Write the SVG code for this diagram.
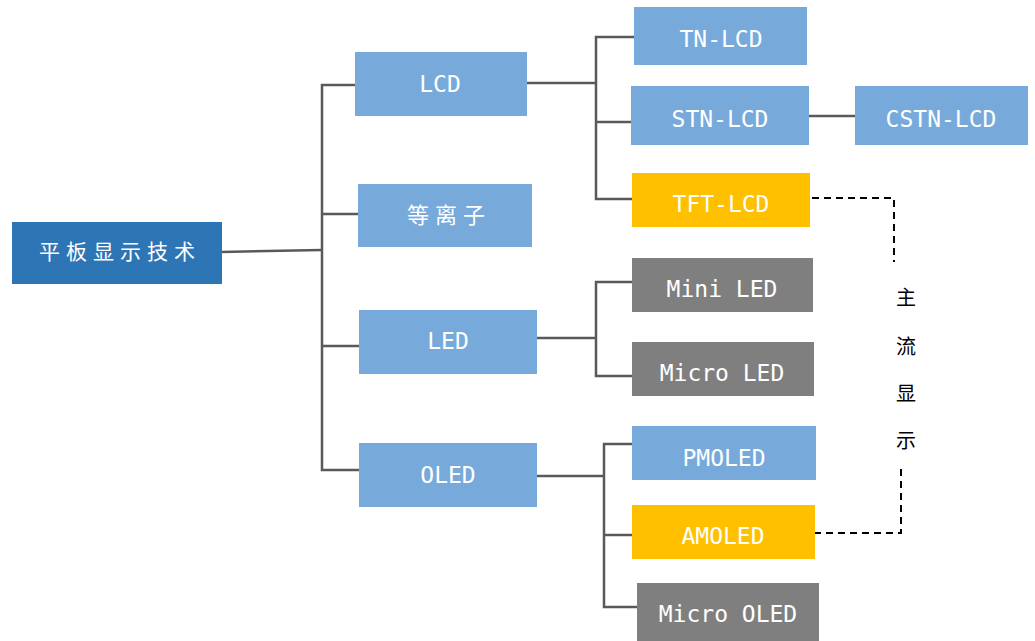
<svg xmlns="http://www.w3.org/2000/svg" width="1035" height="641" viewBox="0 0 1035 641">
<style>
.c{fill:none;stroke:#595959;stroke-width:2.5}
.d{fill:none;stroke:#000;stroke-width:2;stroke-dasharray:7,5}
.blue{fill:#77AADB}
.gold{fill:#FFC000}
.gray{fill:#7F7F7F}
.t{fill:#fff;font-family:"DejaVu Sans Mono","Noto Sans CJK SC",monospace;font-size:23px;text-anchor:middle}
.cj{fill:#fff;font-family:"Noto Sans CJK SC",sans-serif;font-size:21px;text-anchor:middle;letter-spacing:6px}
.lbl{fill:#000;font-family:"Noto Sans CJK SC",sans-serif;font-size:20px;text-anchor:middle}
</style>
<rect width="1035" height="641" fill="#fff"/>
<g id="connectors">
<path class="c" d="M221 252 L322 250"/>
<path class="c" d="M355 85 H322 V470 H359 M322 214 H358 M322 346 H359"/>
<path class="c" d="M527 83 H596 M634 37 H596 V199 H632 M596 122 H631"/>
<path class="c" d="M809 116 H855"/>
<path class="c" d="M537 338 H596 M632 282 H596 V376 H632"/>
<path class="c" d="M537 476 H604 M632 444 H604 V607 H637"/>
<path class="c" d="M604 535 H632"/>
<path class="d" d="M812 198 H894 V262"/>
<path class="d" d="M901 469 V533 H812"/>
</g>
<g id="root"><rect x="12" y="222" width="210" height="62" fill="#2E75B6"/><text class="cj" x="120" y="259">平板显示技术</text></g>
<g id="lcd"><rect class="blue" x="355" y="52" width="172" height="64"/><text class="t" x="440" y="92">LCD</text></g>
<g id="plasma"><rect class="blue" x="358" y="184" width="174" height="63"/><text class="cj" x="449" y="223" style="font-size:22px">等离子</text></g>
<g id="led"><rect class="blue" x="359" y="310" width="178" height="64"/><text class="t" x="448" y="349">LED</text></g>
<g id="oled"><rect class="blue" x="359" y="443" width="178" height="64"/><text class="t" x="448" y="483">OLED</text></g>
<g id="tn"><rect class="blue" x="634" y="7" width="173" height="58"/><text class="t" x="721" y="47">TN-LCD</text></g>
<g id="stn"><rect class="blue" x="631" y="86" width="178" height="59"/><text class="t" x="720" y="127">STN-LCD</text></g>
<g id="cstn"><rect class="blue" x="855" y="86" width="173" height="59"/><text class="t" x="941" y="127">CSTN-LCD</text></g>
<g id="tft"><rect class="gold" x="632" y="173" width="178" height="54"/><text class="t" x="721" y="212">TFT-LCD</text></g>
<g id="miniled"><rect class="gray" x="632" y="258" width="181" height="54"/><text class="t" x="722" y="297">Mini LED</text></g>
<g id="microled"><rect class="gray" x="632" y="342" width="182" height="54"/><text class="t" x="722" y="381">Micro LED</text></g>
<g id="pmoled"><rect class="blue" x="632" y="426" width="184" height="54"/><text class="t" x="724" y="466">PMOLED</text></g>
<g id="amoled"><rect class="gold" x="632" y="505" width="183" height="54"/><text class="t" x="723" y="544">AMOLED</text></g>
<g id="microoled"><rect class="gray" x="637" y="583" width="182" height="58"/><text class="t" x="728" y="622">Micro OLED</text></g>
<g id="label">
<text class="lbl" x="906" y="305">主</text>
<text class="lbl" x="906" y="354">流</text>
<text class="lbl" x="906" y="401">显</text>
<text class="lbl" x="906" y="448">示</text>
</g>
</svg>
